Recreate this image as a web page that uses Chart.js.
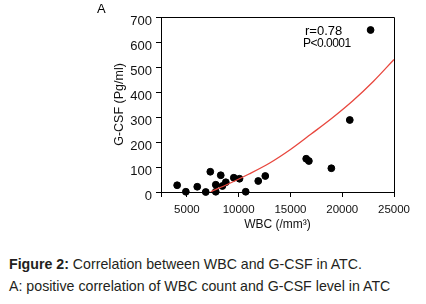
<!DOCTYPE html>
<html>
<head>
<meta charset="utf-8">
<script src="https://cdn.jsdelivr.net/npm/chart.js@4/dist/chart.umd.min.js"></script>
<style>
  body { margin: 0; background: #fff; font-family: 'Liberation Sans', Arial, sans-serif; }
  #wrap { position: relative; width: 426px; height: 304px; overflow: hidden; }
  #chart { position: absolute; left: 0; top: 0; }
  .txt { position: absolute; color: #000; white-space: nowrap; }
  #panel { left: 97px; top: 2px; font-size: 13px; line-height: 14px; }
  #rval { left: 305px; top: 24px; font-size: 13px; line-height: 13px; }
  #pval { left: 303px; top: 37px; font-size: 12px; line-height: 13px; letter-spacing: -0.5px; }
  #caption { position: absolute; left: 9px; top: 254px; font-size: 14.2px; line-height: 21.7px; color: #231f20; white-space: nowrap; }
</style>
</head>
<body>
<div id="wrap">
  <canvas id="chart" width="426" height="240"></canvas>
  <div class="txt" id="panel">A</div>
  <div class="txt" id="rval">r=0.78</div>
  <div class="txt" id="pval">P&lt;0.0001</div>
  <div id="caption">
    <div><b>Figure 2:</b> Correlation between WBC and G-CSF in ATC.</div>
    <div>A: positive correlation of WBC count and G-CSF level in ATC</div>
  </div>
</div>
<script>
// patient values
const wbc = [4060, 4900, 6000, 6820, 7260, 7790, 7790, 8270, 8430, 8760,
  9530, 10080, 10680, 11890, 12570, 16520, 16780, 18950, 20730, 22740];
const gcsf = [27, 1, 21, 0, 81, 29, 1, 67, 24, 39,
  57, 53, 1, 44, 64, 133, 124, 95, 288, 648];

// red regression curve
const fitX = [7300, 9000, 11000, 13000, 15000, 17000, 19000, 21000, 23000, 25000];
const fitY = [1, 32, 72, 116, 170, 232, 295, 364, 442, 530];

const xTicks = [2500, 5000, 10000, 15000, 20000, 25000];
const yTicks = [0, 100, 200, 300, 400, 500, 600, 700];

const frame = {
  id: 'frame',
  afterDraw(chart) {
    const { ctx, chartArea: a } = chart;
    ctx.save();
    ctx.strokeStyle = '#000';
    ctx.lineWidth = 1;
    ctx.beginPath();
    ctx.moveTo(a.left, a.top + 0.5);
    ctx.lineTo(a.right + 0.5, a.top + 0.5);
    ctx.lineTo(a.right + 0.5, a.bottom);
    ctx.stroke();
    ctx.restore();
  }
};

function makeChart() {
  const ctx = document.getElementById('chart').getContext('2d');
  new Chart(ctx, {
    type: 'scatter',
    data: {
      datasets: [
        {
          label: 'fit',
          type: 'line',
          data: fitX.map((x, i) => ({ x: x, y: fitY[i] })),
          borderColor: '#e8473e',
          borderWidth: 1.3,
          pointRadius: 0,
          tension: 0.4,
          cubicInterpolationMode: 'monotone',
          fill: false,
        },
        {
          label: 'patients',
          data: wbc.map((x, i) => ({ x: x, y: gcsf[i] })),
          backgroundColor: '#000',
          borderColor: '#000',
          pointRadius: 3.4,
          clip: false,
        },
      ],
    },
    options: {
      responsive: false,
      animation: false,
      layout: { padding: { left: 112, right: 32, top: 17, bottom: 8 } },
      plugins: { legend: { display: false }, tooltip: { enabled: false } },
      scales: {
        x: {
          type: 'linear',
          min: 2500,
          max: 25000,
          afterBuildTicks: (axis) => { axis.ticks = xTicks.map((v) => ({ value: v })); },
          afterFit: (axis) => { axis.height = 40; },
          grid: { drawOnChartArea: false, tickLength: 5, color: '#000' },
          border: { color: '#000', width: 1 },
          ticks: {
            color: '#111',
            padding: 6,
            maxRotation: 0,
            autoSkip: false,
            font: { family: 'Liberation Sans', size: 11.5 },
            callback: (v) => (v === 2500 ? '' : String(v)),
          },
          title: {
            display: true,
            text: 'WBC (/mm³)',
            color: '#111',
            padding: 0,
            font: { family: 'Liberation Sans', size: 12 },
          },
        },
        y: {
          min: 0,
          max: 700,
          afterBuildTicks: (axis) => { axis.ticks = yTicks.map((v) => ({ value: v })); },
          afterFit: (axis) => { axis.width = 49; },
          grid: { drawOnChartArea: false, tickLength: 5, color: '#000' },
          border: { color: '#000', width: 1 },
          ticks: {
            color: '#111',
            padding: 4,
            labelOffset: 4,
            font: { family: 'Liberation Sans', size: 13 },
            callback: (v) => String(v),
          },
          title: {
            display: true,
            text: 'G-CSF (Pg/ml)',
            color: '#111',
            padding: 0,
            font: { family: 'Liberation Sans', size: 12.5 },
          },
        },
      },
    },
    plugins: [frame],
  });
}

document.addEventListener('DOMContentLoaded', makeChart);
</script>
</body>
</html>
